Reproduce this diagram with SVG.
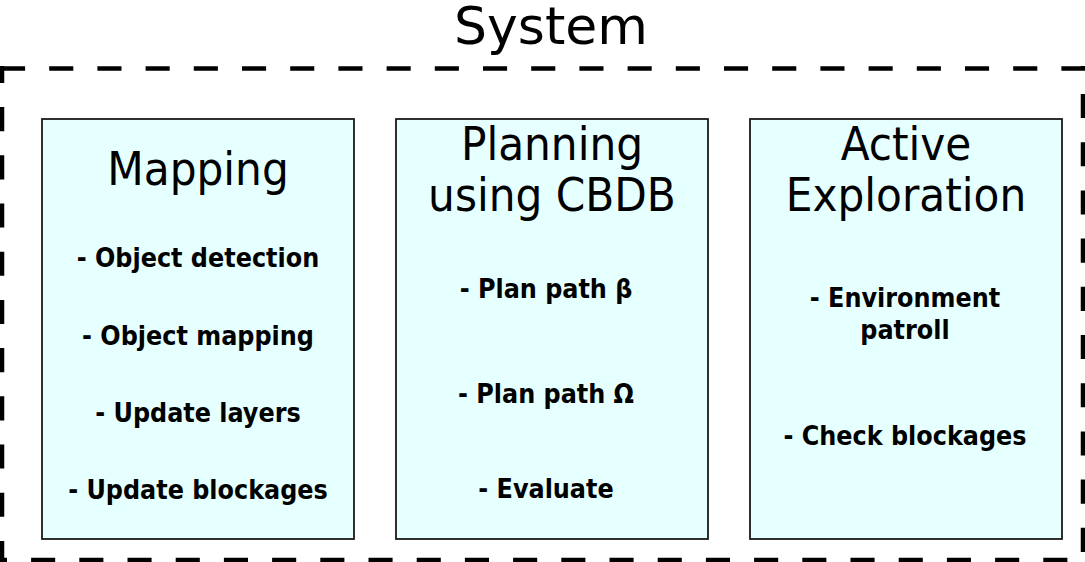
<svg xmlns="http://www.w3.org/2000/svg" width="1085" height="562" viewBox="0 0 1085 562">
<style>
.frame{stroke:#000;stroke-width:4.5;stroke-dasharray:24.1 24.1;fill:none}
.box{fill:#e6ffff;stroke:#1a1a1a;stroke-width:1.8}
.title{font-family:"DejaVu Sans Condensed","DejaVu Sans",sans-serif;font-stretch:condensed;font-size:47px;text-anchor:middle;fill:#000}
.item{font-family:"DejaVu Sans Condensed","DejaVu Sans",sans-serif;font-stretch:condensed;font-weight:bold;font-size:26.6px;text-anchor:middle;fill:#000}
.sys{font-family:"DejaVu Sans",sans-serif;font-size:52px;text-anchor:middle;fill:#000}
</style>
<g id="system">
<text class="sys" x="551" y="44">System</text>
<line class="frame" x1="0" y1="68.5" x2="1085" y2="68.5" stroke-dashoffset="-1"/>
<line class="frame" x1="2" y1="66" x2="2" y2="560" stroke-dashoffset="7.1"/>
<line class="frame" x1="1083" y1="66" x2="1083" y2="560" stroke-dashoffset="20.2"/>
<line class="frame" x1="0" y1="560" x2="1085" y2="560" stroke-dashoffset="17.1"/>
</g>
<g id="connectors"></g>
<g id="mapping">
<rect class="box" x="42" y="119" width="312" height="420"/>
<text class="title" x="198" y="185">Mapping</text>
<text class="item" x="198" y="267">- Object detection</text>
<text class="item" x="198" y="345">- Object mapping</text>
<text class="item" x="198" y="422">- Update layers</text>
<text class="item" x="198" y="499">- Update blockages</text>
</g>
<g id="planning">
<rect class="box" x="396" y="119" width="312" height="420"/>
<text class="title" x="552" y="160">Planning</text>
<text class="title" x="552" y="211">using CBDB</text>
<text class="item" x="546" y="298">- Plan path β</text>
<text class="item" x="546" y="403">- Plan path Ω</text>
<text class="item" x="546" y="498">- Evaluate</text>
</g>
<g id="exploration">
<rect class="box" x="750" y="119" width="312" height="420"/>
<text class="title" x="906" y="160">Active</text>
<text class="title" x="906" y="211">Exploration</text>
<text class="item" x="905" y="307">- Environment</text>
<text class="item" x="905" y="339">patroll</text>
<text class="item" x="905" y="445">- Check blockages</text>
</g>
</svg>
